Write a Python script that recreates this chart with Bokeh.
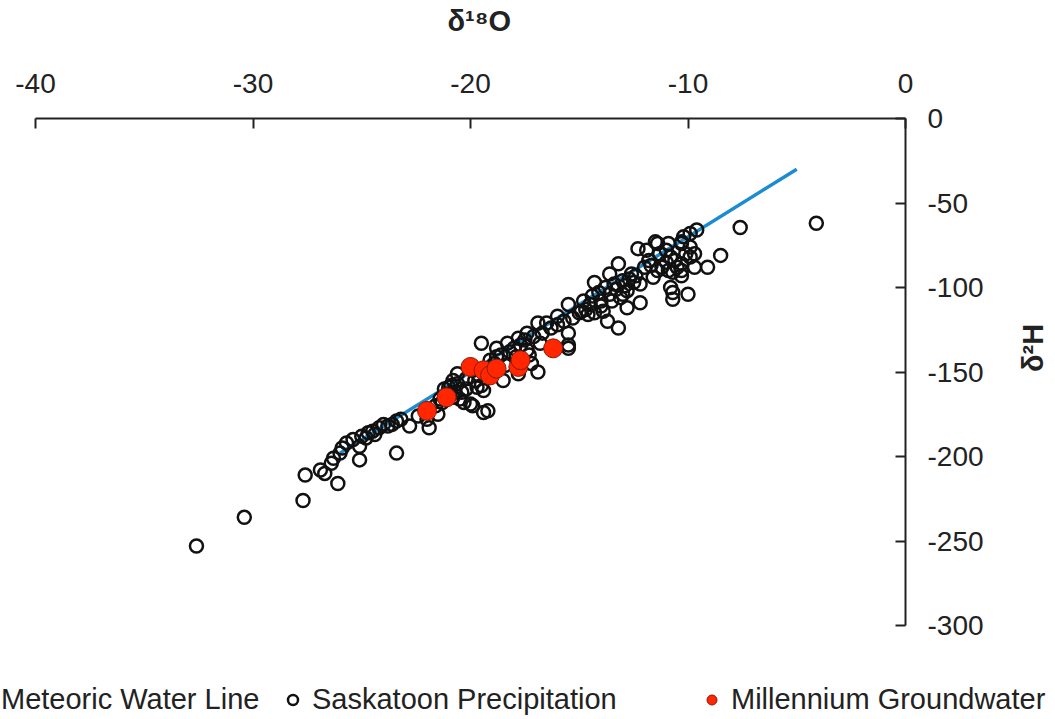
import math
from bokeh.plotting import figure
from bokeh.models import Range1d, FixedTicker, Legend, LegendItem, Label
from bokeh.embed import file_html
from bokeh.resources import INLINE

# Meteoric Water Line
mwl_x = [-26.0, -5.0]
mwl_y = [-198.0, -30.0]

# Saskatoon Precipitation
precip_x = [
    -32.6, -30.4, -27.7, -27.6, -26.1, -26.7, -26.9, -26.4, -26.3, -26.0,
    -25.7, -25.1, -25.1, -24.7, -24.5, -24.2, -24.0, -23.4, -23.4, -23.2,
    -22.8, -21.9, -22.4, -25.4, -25.0, -24.8, -24.4, -23.8, -23.6, -25.9,
    -20.5, -20.0, -19.4, -20.2, -19.7, -19.5, -18.8, -19.2, -19.9, -20.3,
    -19.4, -19.5, -20.6, -20.8, -18.5, -17.8, -16.9, -17.2, -18.3, -17.8,
    -17.4, -16.9, -16.5, -16.0, -15.5, -15.5, -16.8, -17.4, -18.8, -19.1,
    -19.9, -21.6, -21.3, -21.0, -21.2, -20.9, -20.7, -21.5, -22.0, -21.0,
    -20.6, -20.4, -20.8, -21.4, -20.2, -19.8, -18.6, -18.2, -18.0, -17.7,
    -17.5, -17.1, -16.7, -16.3, -16.0, -15.7, -15.3, -15.0, -14.7, -18.9,
    -18.4, -17.9, -17.3, -19.6,
    -15.5, -14.9, -14.5, -14.0, -13.6, -13.1, -12.8, -12.6, -12.2, -11.6,
    -14.3, -13.9, -12.2, -12.8, -13.7, -13.2, -13.2, -13.6, -14.3, -12.3,
    -11.4, -11.9, -11.3, -14.6, -14.8, -14.4, -14.1, -13.8, -13.4, -13.0,
    -12.7, -12.4, -13.3, -12.9, -12.5, -14.0, -13.5, -13.0, -15.5,
    -10.9, -10.3, -9.9, -9.7, -10.8, -10.3, -9.7, -10.5, -10.9, -10.7,
    -10.0, -10.7, -10.8, -9.1, -8.5, -9.6, -9.9, -10.2, -10.3, -9.9,
    -10.3, -10.7, -10.3, -11.7, -11.5, -7.6, -4.1, -11.0, -11.2, -10.6,
    -10.1, -11.8, -12.0, -11.4, -11.0,
]
precip_y = [
    -253, -236, -226, -211, -216, -210, -208, -204, -201, -198,
    -192, -202, -194, -186, -185, -183, -181, -198, -179, -178,
    -182, -183, -176, -190, -188, -189, -187, -182, -181, -195,
    -166, -169, -174, -160, -159, -133, -136, -173, -170, -168,
    -161, -158, -151, -155, -155, -151, -150, -145, -133, -130,
    -127, -121, -121, -117, -136, -127, -133, -137, -141, -143,
    -149, -170, -168, -163, -160, -158, -162, -175, -178, -159,
    -157, -162, -165, -166, -154, -155, -140, -138, -136, -134,
    -131, -129, -127, -124, -122, -120, -118, -115, -113, -145,
    -146, -141, -140, -152,
    -110, -114, -110, -108, -104, -106, -102, -92, -98, -94,
    -115, -114, -109, -112, -120, -124, -86, -92, -97, -77,
    -74, -78, -80, -116, -108, -105, -103, -100, -98, -96,
    -95, -93, -101, -99, -97, -111, -108, -104, -134,
    -74, -74, -76, -80, -82, -90, -88, -88, -90, -103,
    -104, -107, -100, -88, -81, -66, -68, -70, -73, -82,
    -86, -91, -93, -87, -73, -64.5, -62, -85, -88, -84,
    -80, -84, -88, -90, -78,
]

# Millennium Groundwater
gw_x = [-22.0, -21.1, -20.0, -19.4, -19.1, -18.8, -17.8, -17.7, -16.2]
gw_y = [-173, -165, -147, -149, -152, -148, -147, -143, -136]

x_ticks = [-40, -30, -20, -10, 0]
x_tick_labels = ["-40", "-30", "-20", "-10", "0"]
y_ticks = [0, -50, -100, -150, -200, -250, -300]
y_tick_labels = ["0", "-50", "-100", "-150", "-200", "-250", "-300"]

FONT = "Liberation Sans"
W, H = 1055, 719

# The frame covers the whole canvas; both axes are pinned at 0 and bounded
# to the data ranges (x: -40..0 spans 870 px, y: -300..0 spans 507 px).
X_PX_PER_UNIT = 870 / 40.0
Y_PX_PER_UNIT = 507 / 300.0
x_start = -40 - 35 / X_PX_PER_UNIT
x_end = 150 / X_PX_PER_UNIT
y_start = -300 - 94 / Y_PX_PER_UNIT
y_end = 118 / Y_PX_PER_UNIT

p = figure(width=W, height=H,
           x_range=Range1d(x_start, x_end), y_range=Range1d(y_start, y_end),
           x_axis_location="above", y_axis_location="right",
           output_backend="svg", toolbar_location=None,
           min_border_left=0, min_border_right=0,
           min_border_top=0, min_border_bottom=0)
p.outline_line_color = None
p.xgrid.visible = False
p.ygrid.visible = False
p.background_fill_color = "white"
p.border_fill_color = "white"

for ax in (p.xaxis[0], p.yaxis[0]):
    ax.axis_line_color = "#222222"
    ax.axis_line_width = 2
    ax.major_tick_line_color = "#222222"
    ax.major_tick_line_width = 2
    ax.major_tick_in = 10
    ax.major_tick_out = 0
    ax.minor_tick_line_color = None
    ax.major_label_text_font = FONT
    ax.major_label_text_font_size = "28px"
    ax.major_label_text_color = "#222222"
    ax.axis_label_text_font = FONT
    ax.axis_label_text_font_style = "bold"
    ax.axis_label_text_font_size = "29px"
    ax.axis_label_text_color = "#222222"

p.xaxis.bounds = (-40, 0)
p.yaxis.bounds = (-300, 0)
p.xaxis.fixed_location = 0
p.yaxis.fixed_location = 0
p.xaxis.ticker = FixedTicker(ticks=x_ticks)
p.yaxis.ticker = FixedTicker(ticks=y_ticks)
p.xaxis.major_label_overrides = {t: s for t, s in zip(x_ticks, x_tick_labels)}
p.yaxis.major_label_overrides = {t: s for t, s in zip(y_ticks, y_tick_labels)}
p.yaxis.axis_label = "δ²H"
p.xaxis.major_label_standoff = 26
p.yaxis.major_label_standoff = 22
p.yaxis.axis_label_standoff = 46
p.yaxis.major_label_text_align = "left"
p.yaxis.axis_label_orientation = math.pi / 2

# x-axis title, centred over the bounded x axis
p.add_layout(Label(text="δ¹⁸O", x=447, y=H - 20, x_units="screen", y_units="screen",
                   text_align="left", text_baseline="middle",
                   text_font=FONT, text_font_style="bold",
                   text_font_size="29px", text_color="#222222"))

r_line = p.line(mwl_x, mwl_y, line_color="#1C8CD2", line_width=3.5)
r_pre = p.scatter(precip_x, precip_y, marker="circle", size=13,
                  fill_alpha=0, line_color="#111111", line_width=2.5)
r_gw = p.scatter(gw_x, gw_y, marker="circle", size=19,
                 fill_color="#FF2600", line_color="#8A1A0A", line_width=1)


def make_legend(label, renderer, loc):
    lg = Legend(items=[LegendItem(label=label, renderers=[renderer])],
                location=loc, orientation="horizontal",
                padding=0, margin=0, border_line_color=None,
                background_fill_alpha=0,
                glyph_width=25, glyph_height=25, label_standoff=7,
                label_text_font=FONT, label_text_font_size="29px",
                label_text_color="#222222")
    p.add_layout(lg, "center")


make_legend("Meteoric Water Line", r_line, (-31, 3))
make_legend("Saskatoon Precipitation", r_pre, (280, 3))
make_legend("Millennium Groundwater", r_gw, (699, 3))

open("out.html", "w").write(file_html(p, INLINE))
